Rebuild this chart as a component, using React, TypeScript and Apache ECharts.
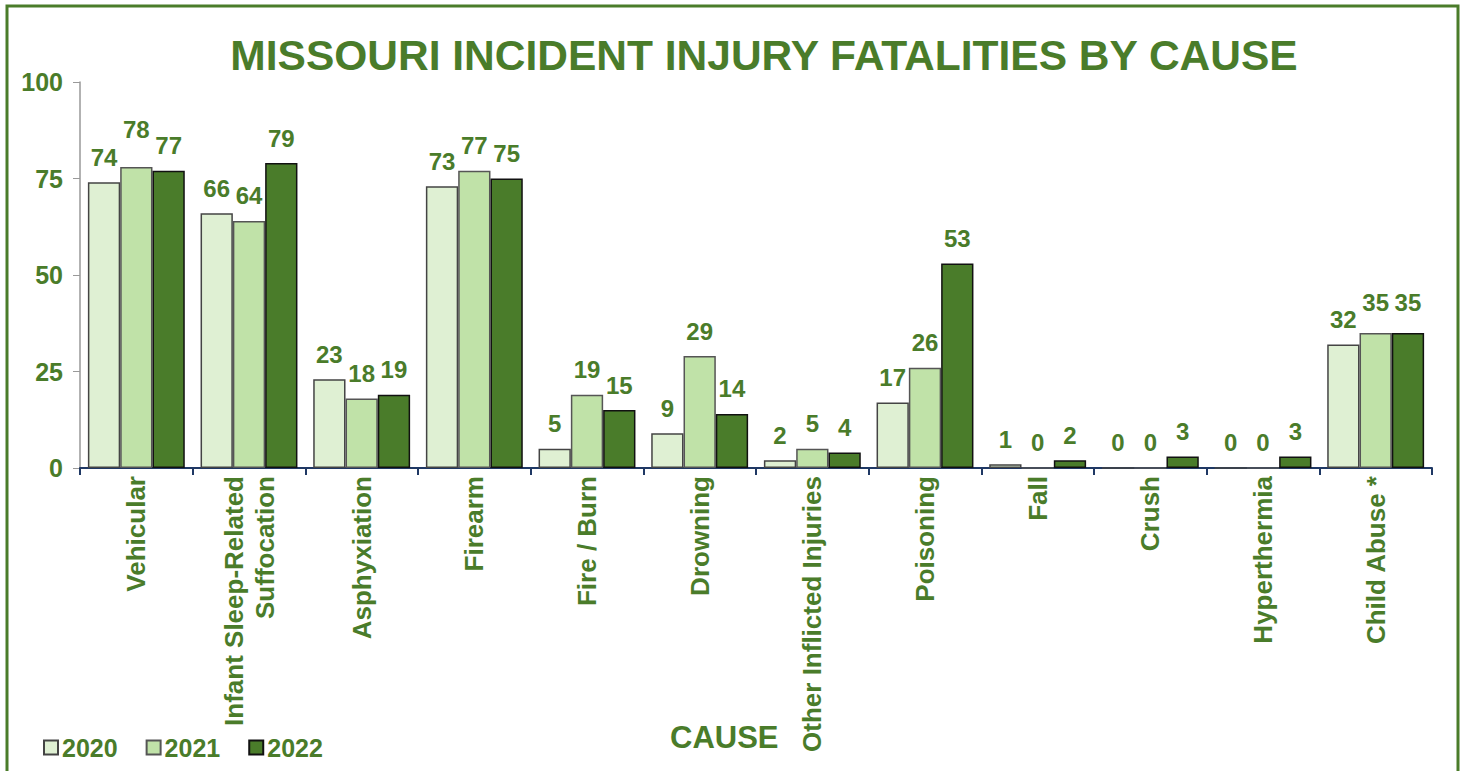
import React, { useEffect, useRef } from "react";
import * as echarts from "echarts";

const categories = [
  "Vehicular",
  "Infant Sleep-Related\nSuffocation",
  "Asphyxiation",
  "Firearm",
  "Fire / Burn",
  "Drowning",
  "Other Inflicted Injuries",
  "Poisoning",
  "Fall",
  "Crush",
  "Hyperthermia",
  "Child Abuse *",
];
const v2020 = [74, 66, 23, 73, 5, 9, 2, 17, 1, 0, 0, 32];
const v2021 = [78, 64, 18, 77, 19, 29, 5, 26, 0, 0, 0, 35];
const v2022 = [77, 79, 19, 75, 15, 14, 4, 53, 2, 3, 3, 35];
const yTicks = [0, 25, 50, 75, 100];

const GREEN = "#4a7c2a";
const FONT = "Liberation Sans, Arial, sans-serif";

export default function App() {
  const ref = useRef<HTMLDivElement>(null);
  useEffect(() => {
    if (!ref.current) return;
    const chart = echarts.init(ref.current, null, { renderer: "svg" });
    const label = {
      show: true,
      position: "top" as const,
      distance: 13,
      color: GREEN,
      fontSize: 24,
      fontWeight: "bold" as const,
      fontFamily: FONT,
    };
    // nudge a few overlapping labels upward, as in the reference
    const bumped = (data: number[], bumps: Record<number, number>) =>
      data.map((v, i) =>
        bumps[i] !== undefined ? { value: v, label: { distance: bumps[i] } } : v
      );
    const mk = (name: string, data: any[], color: string, border: string) => ({
      name,
      type: "bar" as const,
      data,
      barGap: "0%",
      barCategoryGap: "14%",
      itemStyle: { color, borderColor: border, borderWidth: 1.5 },
      label,
    });
    chart.setOption({
      animation: false,
      backgroundColor: "#ffffff",
      textStyle: { fontFamily: FONT },
      title: {
        text: "MISSOURI INCIDENT INJURY FATALITIES BY CAUSE",
        left: 759,
        textAlign: "center",
        top: 29,
        textStyle: { color: GREEN, fontSize: 42.5, fontWeight: "bold", fontFamily: FONT },
      },
      legend: {
        left: 38,
        top: 730,
        itemWidth: 14,
        itemHeight: 14,
        itemGap: 28,
        icon: "rect",
        textStyle: { color: GREEN, fontSize: 25, fontWeight: "bold", fontFamily: FONT, padding: [0, 0, 0, -1] },
        data: ["2020", "2021", "2022"],
      },
      graphic: [
        {
          type: "rect",
          shape: { x: 7, y: 6, width: 1451, height: 800 },
          style: { fill: "none", stroke: GREEN, lineWidth: 3 },
          silent: true,
        },
        {
          type: "text",
          left: 670,
          top: 722,
          style: { text: "CAUSE", fill: GREEN, fontSize: 31, fontWeight: "bold", fontFamily: FONT },
        },
      ],
      grid: { left: 80, right: 33, top: 82, bottom: 303, containLabel: false },
      xAxis: {
        type: "category",
        data: categories,
        axisLine: { lineStyle: { color: "#1f3864", width: 2 } },
        axisTick: { show: true, length: 7, lineStyle: { color: "#1f3864", width: 2 } },
        axisLabel: {
          rotate: 90,
          interval: 0,
          color: GREEN,
          fontSize: 26,
          fontWeight: "bold",
          fontFamily: FONT,
          margin: 8,
          lineHeight: 31,
          align: "right",
        },
      },
      yAxis: {
        type: "value",
        min: 0,
        max: 100,
        interval: 25,
        axisLine: { show: true, lineStyle: { color: "#999999", width: 1.5 } },
        axisTick: { show: true, length: 7, lineStyle: { color: "#999999" } },
        splitLine: { show: false },
        axisLabel: {
          color: GREEN,
          fontSize: 25,
          fontWeight: "bold",
          fontFamily: FONT,
          margin: 17,
          formatter: (v: number) => (yTicks.includes(v) ? String(v) : ""),
        },
      },
      series: [
        mk("2020", v2020, "#dff0d3", "#444444"),
        mk("2021", bumped(v2021, { 0: 25, 11: 18 }), "#c0e2a8", "#555555"),
        mk("2022", bumped(v2022, { 11: 18 }), "#4a7c2a", "#111111"),
      ],
    });
    return () => chart.dispose();
  }, []);
  return (
    <div
      ref={ref}
      style={{ position: "fixed", left: 0, top: 0, width: 1465, height: 771, background: "#fff" }}
    />
  );
}
